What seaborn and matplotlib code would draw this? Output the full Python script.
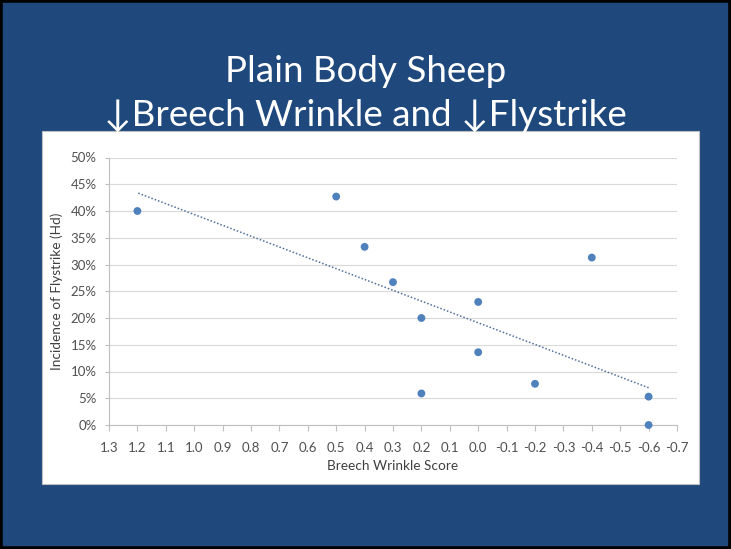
import matplotlib
matplotlib.use("Agg")
import numpy as np
import pandas as pd
import seaborn as sns
import matplotlib.pyplot as plt
from matplotlib.patches import Rectangle
from matplotlib.ticker import MultipleLocator, PercentFormatter, FuncFormatter

# --- DATA ---
wrinkle_score = [1.2, 0.5, 0.4, 0.3, 0.2, 0.2, 0.0, 0.0, -0.2, -0.4, -0.6, -0.6]
flystrike = [0.400, 0.427, 0.333, 0.267, 0.200, 0.059, 0.230, 0.136, 0.077, 0.313, 0.053, 0.0]

title_1 = "Plain Body Sheep"
title_2 = "↓Breech Wrinkle and ↓Flystrike"
x_label = "Breech Wrinkle Score"
y_label = "Incidence of Flystrike (Hd)"

df = pd.DataFrame({"score": wrinkle_score, "hd": flystrike})

sns.set_theme(style="white")
plt.rcParams["font.family"] = ["Lato", "DejaVu Sans"]

W, H = 731, 549
fig = plt.figure(figsize=(W / 100, H / 100), dpi=100, facecolor="#1F497D")

# slide border and white chart panel
fig.patches.append(Rectangle((0, 0), 1, 1, transform=fig.transFigure, fill=False,
                             edgecolor="black", linewidth=4, zorder=10))
fig.patches.append(Rectangle((42 / W, 1 - 484 / H), (699 - 42) / W, (484 - 131) / H,
                             transform=fig.transFigure, facecolor="white",
                             edgecolor="#BFBFBF", linewidth=0.8, zorder=-5))

fig.text(0.5, 1 - 71 / H, title_1, ha="center", va="center", color="white", fontsize=26.5)
fig.text(0.5, 1 - 115 / H, title_2, ha="center", va="center", color="white", fontsize=26.5)

ax = fig.add_axes([109 / W, 1 - 425 / H, (677 - 109) / W, (425 - 157.5) / H])
ax.set_facecolor("white")

# --- PLOT ---
sns.regplot(data=df, x="score", y="hd", scatter=False, ci=None, truncate=True, ax=ax,
            line_kws=dict(color="#4F6E9B", lw=1.1, ls=(0, (1, 1.3))))
sns.scatterplot(data=df, x="score", y="hd", ax=ax, color="#4F81BD", s=32,
                edgecolor="none", zorder=3, clip_on=False)

ax.set_xlim(1.3, -0.7)
ax.set_ylim(0, 0.5)
ax.xaxis.set_major_locator(MultipleLocator(0.1))
ax.xaxis.set_major_formatter(FuncFormatter(lambda v, p: f"{v:.1f}".replace("-0.0", "0.0")))
ax.yaxis.set_major_locator(MultipleLocator(0.05))
ax.yaxis.set_major_formatter(PercentFormatter(1.0, decimals=0))

ax.grid(axis="y", color="#D9D9D9", lw=0.8)
ax.set_axisbelow(True)
for s in ["top", "right"]:
    ax.spines[s].set_visible(False)
for s in ["left", "bottom"]:
    ax.spines[s].set_color("#BFBFBF")
    ax.spines[s].set_linewidth(0.8)

ax.tick_params(axis="x", bottom=True, direction="out", length=4, width=0.8,
               color="#BFBFBF", labelsize=9.5, labelcolor="#505050", pad=8)
ax.tick_params(axis="y", left=True, direction="out", length=3, width=0.8,
               color="#BFBFBF", labelsize=9.5, labelcolor="#505050", pad=6)

ax.set_xlabel(x_label, fontsize=9.8, color="#404040")
ax.set_ylabel(y_label, fontsize=9.8, color="#404040")
ax.xaxis.set_label_coords(0.5, -0.13)
ax.yaxis.set_label_coords(-0.081, 0.5)

plt.savefig("out.png", dpi=100, facecolor=fig.get_facecolor())
